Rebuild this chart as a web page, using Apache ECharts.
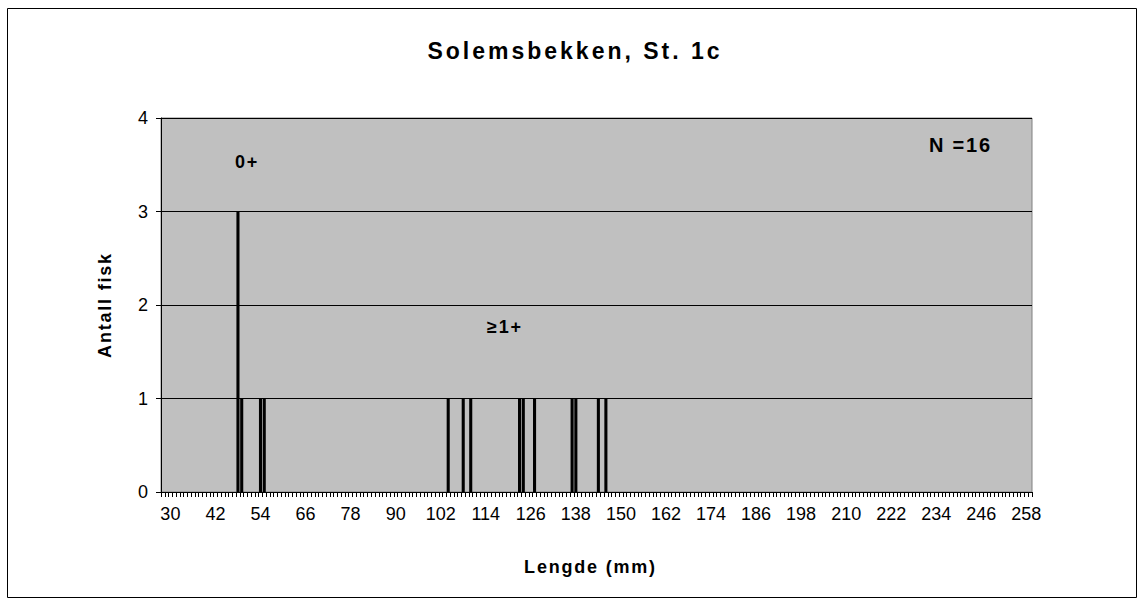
<!DOCTYPE html>
<html>
<head>
<meta charset="utf-8">
<script src="https://cdn.jsdelivr.net/npm/echarts@6/dist/echarts.min.js"></script>
<style>
html,body{margin:0;padding:0;background:#fff;}
#chart{width:1145px;height:607px;}
#chart text[style*="bold"]{letter-spacing:1.8px;}
#chart text[style*="23px"]{letter-spacing:3px;}
</style>
</head>
<body>
<div id="chart"></div>
<script>
// Data
const categoryStart = 28;
const categoryEnd = 259;
const lengths = [48, 49, 54, 55, 104, 108, 110, 123, 124, 127, 137, 138, 144, 146];
const counts  = [3, 1, 1, 1, 1, 1, 1, 1, 1, 1, 1, 1, 1, 1];
const labelStart = 30;
const labelStep = 12;
const yTicks = [0, 1, 2, 3, 4];

const categories = [];
for (let v = categoryStart; v <= categoryEnd; v++) categories.push(String(v));
const values = categories.map(c => {
  const i = lengths.indexOf(Number(c));
  return i >= 0 ? counts[i] : 0;
});

const FONT = '"Liberation Sans", Arial, sans-serif';
const chart = echarts.init(document.getElementById('chart'), null, {renderer: 'svg'});
chart.setOption({
  animation: false,
  backgroundColor: '#ffffff',
  title: {
    text: 'Solemsbekken, St. 1c',
    left: 570, top: 34, textAlign: 'center',
    textStyle: {fontFamily: FONT, fontSize: 23, fontWeight: 'bold', color: '#000'}
  },
  grid: {
    left: 161, top: 118, right: 1145 - 1032, bottom: 607 - 492,
    show: true, backgroundColor: '#c0c0c0', borderColor: '#808080', borderWidth: 1
  },
  xAxis: {
    type: 'category',
    data: categories,
    boundaryGap: true,
    name: 'Lengde (mm)',
    nameLocation: 'middle',
    nameGap: 66,
    nameTextStyle: {fontFamily: FONT, fontSize: 18, fontWeight: 'bold', color: '#000', padding: [0, 12, 0, 0]},
    axisLine: {lineStyle: {color: '#000', width: 1}},
    axisTick: {show: true, interval: 0, length: 5, lineStyle: {color: '#000'}},
    axisLabel: {
      interval: (idx, val) => (Number(val) - labelStart) % labelStep === 0,
      fontFamily: FONT, fontSize: 18, color: '#000', margin: 13
    },
    splitLine: {show: false}
  },
  yAxis: {
    type: 'value',
    min: yTicks[0], max: yTicks[yTicks.length - 1], interval: 1,
    name: 'Antall fisk',
    nameLocation: 'middle',
    nameGap: 47,
    nameTextStyle: {fontFamily: FONT, fontSize: 18, fontWeight: 'bold', color: '#000'},
    axisLine: {show: true, lineStyle: {color: '#000', width: 1}},
    axisTick: {show: true, length: 5, lineStyle: {color: '#000'}},
    axisLabel: {fontFamily: FONT, fontSize: 18, color: '#000', margin: 13},
    splitLine: {show: true, lineStyle: {color: '#000', width: 1}}
  },
  series: [{
    type: 'bar',
    data: values,
    barCategoryGap: '18%',
    itemStyle: {color: '#000'},
    silent: true
  }],
  graphic: [
    {type: 'rect', shape: {x: 7.5, y: 8.5, width: 1129, height: 589}, style: {fill: 'none', stroke: '#000', lineWidth: 1}, z: -1},
    {type: 'text', left: 235, top: 153, style: {text: '0+', font: 'bold 18px ' + FONT, fill: '#000'}, z: 10},
    {type: 'text', left: 487, top: 318, style: {text: '≥1+', font: 'bold 18px ' + FONT, fill: '#000'}, z: 10},
    {type: 'text', left: 929, top: 135, style: {text: 'N =16', font: 'bold 20px ' + FONT, fill: '#000'}, z: 10}
  ]
});
</script>
</body>
</html>
